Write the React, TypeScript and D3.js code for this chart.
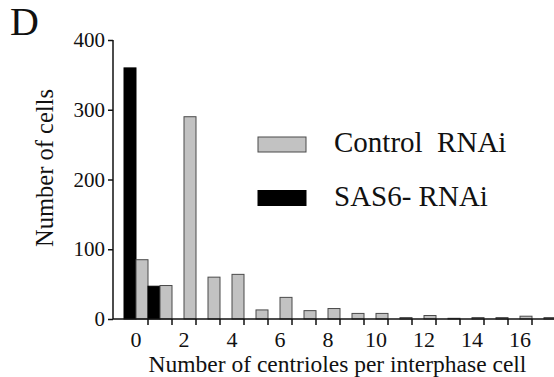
import React, { useEffect, useRef } from 'react';
import * as d3 from 'd3';

const categories = ['0', '1', '2', '3', '4', '5', '6', '7', '8', '9', '10', '11', '12', '13', '14', '15', '16', '17'];
const controlValues = [85, 48, 290, 60, 64, 13, 31, 12, 15, 8, 8, 2, 5, 1, 2, 2, 4, 2];
const sas6Values = [360, 47, 0, 0, 0, 0, 0, 0, 0, 0, 0, 0, 0, 0, 0, 0, 0, 0];
const seriesNames = ['SAS6- RNAi', 'Control  RNAi'];
const yTicks = [0, 100, 200, 300, 400];
const xTickLabels = ['0', '2', '4', '6', '8', '10', '12', '14', '16'];

const App = () => {
  const chartRef = useRef<SVGSVGElement>(null);

  useEffect(() => {
    const svg = d3.select(chartRef.current);
    svg.selectAll('*').remove();

    const width = 554;
    const height = 377;
    const font = '"Liberation Serif", "Times New Roman", serif';
    const axisX = 113;
    const baseY = 319;

    const x = d3.scaleBand().domain(categories).range([124, 124 + 24 * categories.length]).paddingInner(0).paddingOuter(0);
    const sub = d3.scaleBand().domain(seriesNames).range([0, x.bandwidth()]);
    const y = d3.scaleLinear().domain([0, 400]).range([baseY, 40]);
    const color = d3.scaleOrdinal<string, string>().domain(seriesNames).range(['#000000', '#c2c2c2']);

    const rows = categories.map((c, i) => ({
      cat: c,
      values: [
        { name: seriesNames[0], value: sas6Values[i] },
        { name: seriesNames[1], value: controlValues[i] },
      ],
    }));

    // bars
    const groups = svg
      .selectAll('.bar-group')
      .data(rows)
      .enter()
      .append('g')
      .attr('class', 'bar-group')
      .attr('transform', (d) => `translate(${x(d.cat)},0)`);

    groups
      .selectAll('rect')
      .data((d) => d.values.filter((v) => v.value > 0))
      .enter()
      .append('rect')
      .attr('x', (d) => sub(d.name)!)
      .attr('y', (d) => y(d.value))
      .attr('width', sub.bandwidth())
      .attr('height', (d) => baseY - y(d.value))
      .attr('fill', (d) => color(d.name))
      .attr('stroke', (d) => (d.name === seriesNames[0] ? '#000' : '#4a4a4a'))
      .attr('stroke-width', 1);

    // y axis
    const yAxis = svg
      .append('g')
      .attr('transform', `translate(${axisX},0)`)
      .call(d3.axisLeft(y).tickValues(yTicks).tickSize(5).tickPadding(3));
    yAxis.select('.domain').attr('stroke', '#111').attr('stroke-width', 1.5).attr('d', `M0,${y(400)}V${baseY}`);
    yAxis.selectAll('.tick line').attr('stroke', '#111').attr('stroke-width', 1.5);
    yAxis.selectAll('.tick text').attr('font-family', font).attr('font-size', 21).attr('fill', '#111');

    // x axis: ticks at category boundaries, labels on even categories
    const boundaries = categories.slice(0, -1).map((c) => x(c)! + x.bandwidth());
    svg
      .append('line')
      .attr('x1', axisX)
      .attr('x2', width)
      .attr('y1', baseY)
      .attr('y2', baseY)
      .attr('stroke', '#111')
      .attr('stroke-width', 1.5);
    svg
      .append('g')
      .selectAll('line')
      .data(boundaries)
      .enter()
      .append('line')
      .attr('x1', (d) => d)
      .attr('x2', (d) => d)
      .attr('y1', baseY)
      .attr('y2', baseY + 6)
      .attr('stroke', '#111')
      .attr('stroke-width', 1.5);
    svg
      .append('g')
      .selectAll('text')
      .data(xTickLabels)
      .enter()
      .append('text')
      .attr('x', (d) => x(d)! + x.bandwidth() / 2)
      .attr('y', 346.5)
      .attr('text-anchor', 'middle')
      .attr('font-family', font)
      .attr('font-size', 22)
      .attr('fill', '#111')
      .text((d) => d);

    // axis titles
    svg
      .append('text')
      .attr('x', 337.5)
      .attr('y', 372)
      .attr('text-anchor', 'middle')
      .attr('font-family', font)
      .attr('font-size', 23.5)
      .attr('fill', '#111')
      .text('Number of centrioles per interphase cell');

    svg
      .append('text')
      .attr('transform', 'translate(53,168) rotate(-90)')
      .attr('text-anchor', 'middle')
      .attr('font-family', font)
      .attr('font-size', 24.5)
      .attr('fill', '#111')
      .text('Number of cells');

    // panel letter
    svg
      .append('text')
      .attr('x', 10)
      .attr('y', 35)
      .attr('font-family', font)
      .attr('font-size', 40)
      .attr('fill', '#111')
      .text('D');

    // legend
    const legendOrder = [seriesNames[1], seriesNames[0]];
    const legend = svg
      .append('g')
      .selectAll('g')
      .data(legendOrder)
      .enter()
      .append('g')
      .attr('transform', (d, i) => `translate(258,${137 + i * 53.5})`);
    legend
      .append('rect')
      .attr('width', 48)
      .attr('height', 15)
      .attr('fill', (d) => color(d))
      .attr('stroke', (d) => (d === seriesNames[0] ? '#000' : '#4a4a4a'))
      .attr('stroke-width', 1);
    legend
      .append('text')
      .attr('x', 76)
      .attr('y', 15)
      .attr('font-family', font)
      .attr('font-size', 29)
      .attr('fill', '#111')
      .attr('xml:space', 'preserve')
      .style('white-space', 'pre')
      .text((d) => d);

    svg.attr('width', width).attr('height', height);
  }, []);

  return (
    <svg
      ref={chartRef}
      width={554}
      height={377}
      style={{ position: 'absolute', left: 0, top: 0, background: '#fff' }}
    ></svg>
  );
};

export default App;
